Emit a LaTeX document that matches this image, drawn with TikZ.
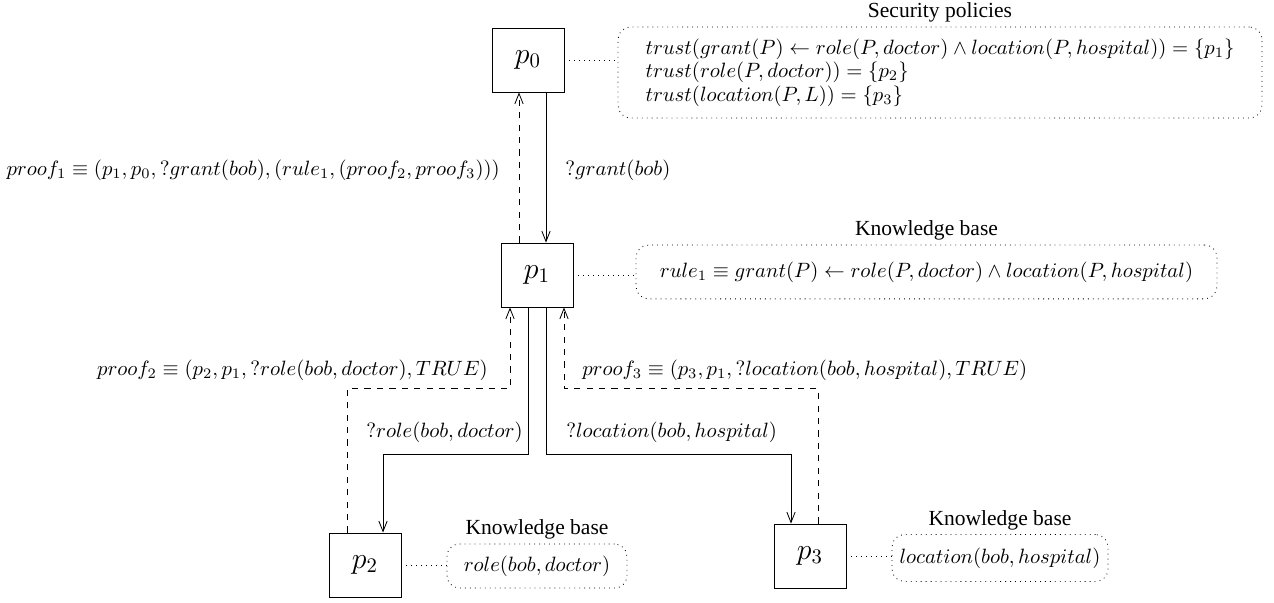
\documentclass[tikz,border=0pt]{standalone}
\usepackage[no-math]{fontspec}
\setmainfont{Liberation Serif}
\usetikzlibrary{arrows.meta,calc,positioning}
\begin{document}
\begin{tikzpicture}[x=0.483pt, y=-0.483pt,
  peer/.style={draw, minimum width=34.8pt, minimum height=30.9pt, font=\Large},
  kbbox/.style={draw, dotted, rounded corners=6pt, inner sep=0pt},
  kbtitle/.style={font=\fontsize{10.4}{12}\selectfont},
  query/.style={-{Straight Barb[length=5pt,width=4pt]}},
  proof/.style={dashed, -{Straight Barb[length=5pt,width=4pt]}},
  link/.style={dotted}]
\useasboundingbox (0,0) rectangle (1274,603);
\node[peer] (p0) at (528,60) {$p_0$};
\node[peer] (p1) at (537,275) {$p_1$};
\node[peer] (p2) at (365,565) {$p_2$};
\node[peer] (p3) at (810,556) {$p_3$};
\node[kbbox, align=left, font=\fontsize{10}{11.3}\selectfont, minimum width=311pt, minimum height=44pt] (sec) at (940,72.5)
  {$trust(grant(P) \leftarrow role(P,doctor) \land location(P,hospital)) = \{p_1\}$\\
   $trust(role(P,doctor)) = \{p_2\}$\\
   $trust(location(P,L)) = \{p_3\}$};
\node[kbtitle, above=-1.5pt of sec] (sectitle) {Security policies};
\node[kbbox, minimum width=280.6pt, minimum height=26pt] (kb1) at (926.5,272)
  {$rule_1 \equiv grant(P) \leftarrow role(P,doctor) \land location(P,hospital)$};
\node[kbtitle, above=-1.5pt of kb1] (kb1title) {Knowledge base};
\node[kbbox, minimum width=86.9pt, minimum height=21.3pt] (kb2) at (537,566) {$role(bob,doctor)$};
\node[kbtitle, above=-1.5pt of kb2] (kb2title) {Knowledge base};
\node[kbbox, minimum width=104.3pt, minimum height=22.7pt] (kb3) at (1000,558) {$location(bob,hospital)$};
\node[kbtitle, above=-1.5pt of kb3] (kb3title) {Knowledge base};
\draw[link] (p0.east) -- (p0.east -| sec.west);
\draw[link] (p1.east) -- (p1.east -| kb1.west);
\draw[link] (p2.east) -- (p2.east -| kb2.west);
\draw[link] (p3.east) -- (p3.east -| kb3.west);
\draw[query] ($(p0.south)+(18,0)$) -- ($(p1.north)+(9,0)$);
\draw[proof] ($(p1.north)+(-18,0)$) -- ($(p0.south)+(-9,0)$);
\draw[query] ($(p1.south)+(-9,0)$) -- ++(0,147) -| ($(p2.north)+(18,0)$);
\draw[query] ($(p1.south)+(9,0)$) -- ++(0,147) -| ($(p3.north)+(-19,0)$);
\draw[proof] ($(p2.north)+(-18,0)$) -- ++(0,-144) -| ($(p1.south)+(-27,0)$);
\draw[proof] ($(p3.north)+(8,0)$) -- ++(0,-135) -| ($(p1.south)+(27,0)$);
\node[anchor=west] (ask0) at (558,170) {$?grant(bob)$};
\node[anchor=east] (proof1) at (507,170) {$proof_1 \equiv (p_1, p_0, ?grant(bob), (rule_1, (proof_2, proof_3)))$};
\node[anchor=east] (proof2) at (495,370) {$proof_2 \equiv (p_2, p_1, ?role(bob,doctor), TRUE)$};
\node[anchor=west] (proof3) at (575,370) {$proof_3 \equiv (p_3, p_1, ?location(bob,hospital), TRUE)$};
\node[anchor=east] (ask2) at (530,432) {$?role(bob,doctor)$};
\node[anchor=west] (ask3) at (559,432) {$?location(bob,hospital)$};
\end{tikzpicture}
\end{document}
